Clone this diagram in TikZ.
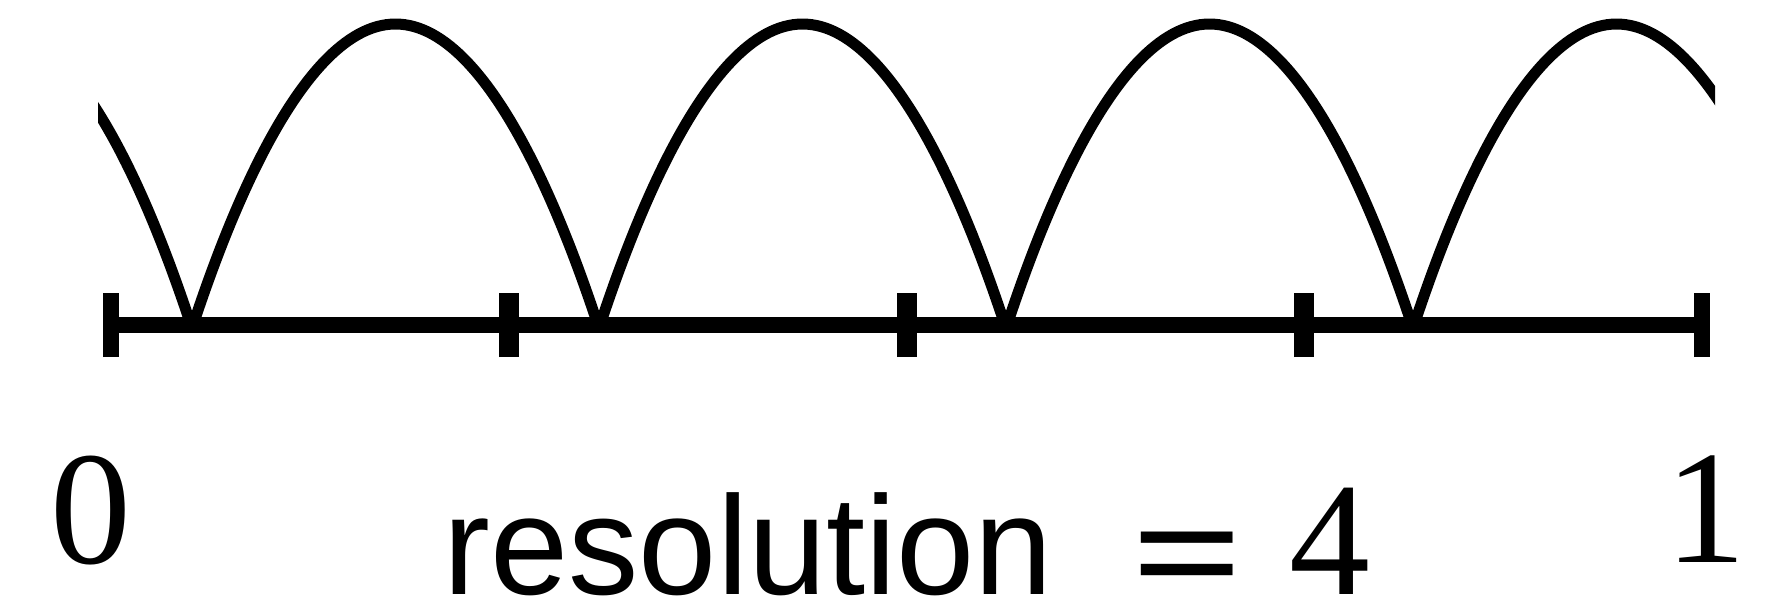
\documentclass[tikz,border=0pt]{standalone}
\usepackage{fontspec}
\setmainfont{Liberation Serif}
\setsansfont{Liberation Sans}
\usetikzlibrary{positioning}

\begin{document}
\begin{tikzpicture}[
    axisline/.style={line width=0.16cm},
    endtick/.style={line width=0.16cm},
    midtick/.style={line width=0.2cm},
    arch/.style={line width=0.11cm},
    numlabel/.style={inner sep=0pt, anchor=base, font=\fontsize{46}{50}\selectfont},
    wordlabel/.style={inner sep=0pt, anchor=base west, font=\sffamily\fontsize{40}{44}\selectfont},
]
\useasboundingbox (-1.11,-2.77) rectangle (16.62,3.25);

% Tick positions on the unit interval
\foreach \i in {0,...,4} {
    \coordinate (t\i) at ({3.9775*\i}, 0);
}

% Axis and ticks
\draw[axisline] (t0) -- (t4);
\foreach \i in {0,4} {
    \draw[endtick] ([yshift=-0.32cm]t\i) -- ([yshift=0.32cm]t\i);
}
\foreach \i in {1,2,3} {
    \draw[midtick] ([yshift=-0.32cm]t\i) -- ([yshift=0.32cm]t\i);
}

% Arches, cut off at both ends
\begin{scope}
    \clip (-0.13,-1) rectangle (16.04,3.5);
    \foreach \k in {-1,...,3} {
        \draw[arch] ({0.81+4.07*\k},-0.03) parabola bend ({2.845+4.07*\k},3.01) ({4.88+4.07*\k},-0.03);
    }
\end{scope}

% Labels
\node[numlabel] (zero) at (-0.2,-2.38) {0};
\node[numlabel] (one) at (15.95,-2.37) {1};
\node[wordlabel] (res) at (3.32,-2.69) {resolution};
\node[numlabel, anchor=base west] (eq) at (10.195,-2.825) {\scalebox{1.22}[1.0]{\bfseries =}};
\node[numlabel, anchor=base west] (four) at (11.78,-2.69) {4};

\end{tikzpicture}
\end{document}
